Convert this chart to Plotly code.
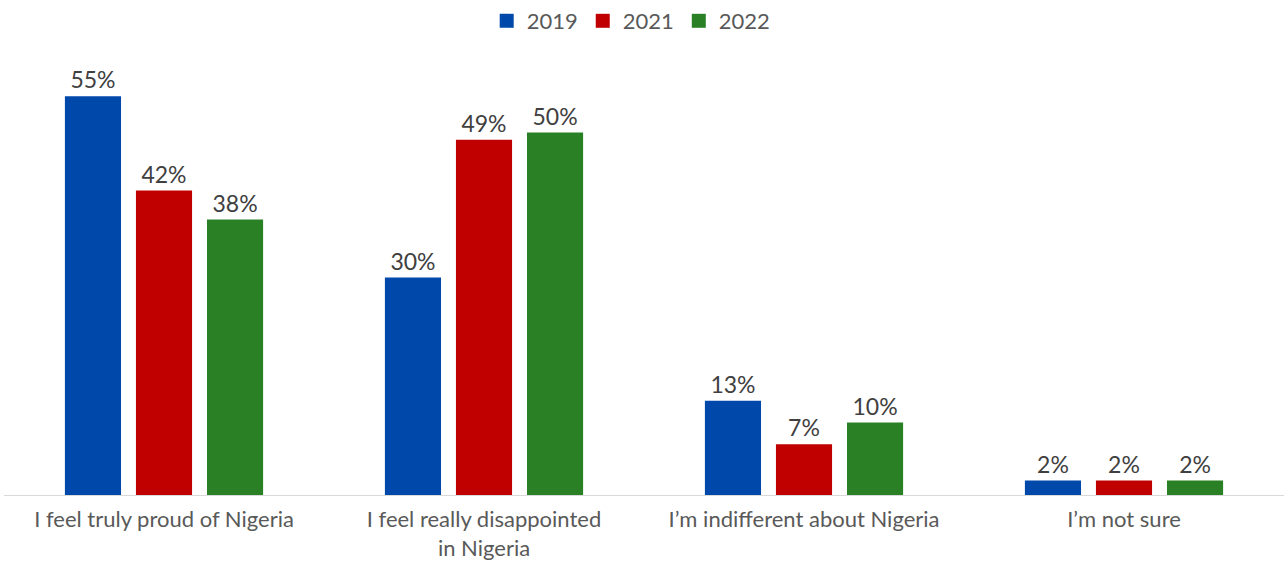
import plotly.graph_objects as go

categories = [
    "I feel truly proud of Nigeria",
    "I feel really disappointed<br>in Nigeria",
    "I\u2019m indifferent about Nigeria",
    "I\u2019m not sure",
]
years = ["2019", "2021", "2022"]
values_2019 = [55, 30, 13, 2]
values_2021 = [42, 49, 7, 2]
values_2022 = [38, 50, 10, 2]
colors = ["#0048AA", "#C00000", "#2A8125"]

FONT = "Lato"

fig = go.Figure()
for name, vals, col in zip(years, [values_2019, values_2021, values_2022], colors):
    fig.add_trace(go.Bar(
        name=name,
        x=categories,
        y=vals,
        marker=dict(color=col, line=dict(width=0)),
        text=[f"{v}%" for v in vals],
        textposition="outside",
        cliponaxis=False,
        textfont=dict(family=FONT, size=23, color="#404040"),
        showlegend=False,
    ))

# square legend keys, larger than the default bar swatch
for name, col in zip(years, colors):
    fig.add_trace(go.Scatter(
        name=name,
        x=[None],
        y=[None],
        mode="markers",
        marker=dict(symbol="square", size=14, color=col),
        showlegend=True,
    ))

fig.update_layout(
    width=1285,
    height=562,
    barmode="group",
    bargap=0.334,
    bargroupgap=0.21,
    plot_bgcolor="white",
    paper_bgcolor="white",
    margin=dict(l=4, r=1, t=60, b=67, autoexpand=False),
    font=dict(family=FONT, color="#595959"),
    legend=dict(
        orientation="h",
        x=0.49,
        xanchor="center",
        y=1.0,
        yref="container",
        yanchor="top",
        font=dict(family=FONT, size=22, color="#595959"),
        itemwidth=30,
        tracegroupgap=0,
    ),
    xaxis=dict(
        automargin=False,
        showline=True,
        linecolor="#D9D9D9",
        linewidth=1,
        ticks="",
        ticklabelstandoff=5,
        tickfont=dict(family=FONT, size=22, color="#595959"),
        showgrid=False,
    ),
    yaxis=dict(
        range=[0, 60],
        visible=False,
        showgrid=False,
        zeroline=False,
    ),
)

fig.write_html("out.html")
